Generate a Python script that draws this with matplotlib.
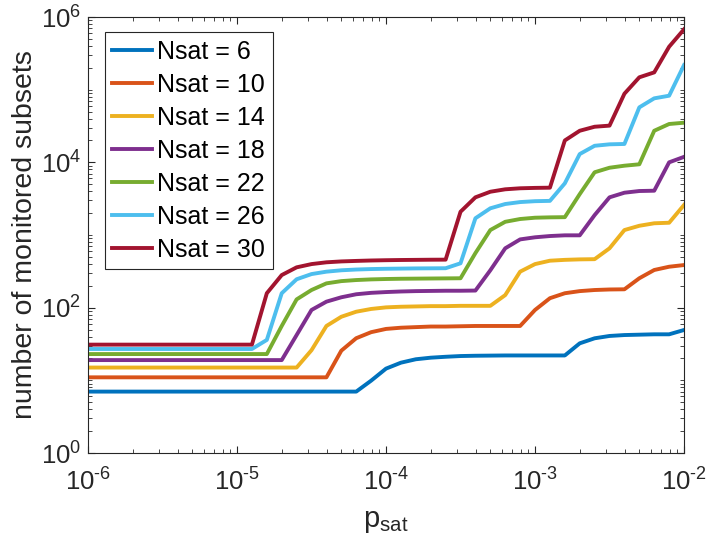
import numpy as np
import matplotlib
matplotlib.use("Agg")
import matplotlib.pyplot as plt
from matplotlib.ticker import LogLocator, NullFormatter, FixedLocator, FuncFormatter

plt.rcParams['font.family'] = ['Liberation Sans', 'DejaVu Sans']
plt.rcParams['mathtext.fontset'] = 'custom'
plt.rcParams['mathtext.rm'] = 'Liberation Sans'
plt.rcParams['mathtext.it'] = 'Liberation Sans:italic'
plt.rcParams['mathtext.default'] = 'regular'

# p_sat sample grid: 10 points per decade from 1e-6 to 1e-2
p_sat = np.logspace(-6, -2, 41)
x_ticks = [1e-6, 1e-5, 1e-4, 1e-3, 1e-2]
y_ticks = [1e0, 1e2, 1e4, 1e6]

labels = ["Nsat = 6", "Nsat = 10", "Nsat = 14", "Nsat = 18",
          "Nsat = 22", "Nsat = 26", "Nsat = 30"]
colors = ["#0072BD", "#D95319", "#EDB120", "#7E2F8E",
          "#77AC30", "#4DBEEE", "#A2142F"]

nsat6 = [7]*19 + [9.9, 14.5, 17.5, 19.5, 20.5, 21.1, 21.6, 21.8, 21.9, 22, 22, 22, 22, 22,
                  32.3, 37.9, 40.8, 42, 42.5, 43, 43, 49.3]
nsat10 = [11]*17 + [25.6, 38, 46, 51, 53, 54, 55, 55, 55.5, 56, 56, 56, 56,
                    93, 135, 158, 169, 175, 178, 179, 254, 330, 366, 386]
nsat14 = [15]*15 + [26, 56, 75, 88, 96, 101, 103, 104, 105, 105, 106, 106, 106,
                    149, 313, 398, 443, 455, 462, 465, 656, 1170, 1340, 1450, 1475, 2590]
nsat18 = [19]*14 + [42, 93, 121, 139, 153, 160, 164, 167, 169, 170, 171, 171, 172,
                    327, 656, 870, 930, 968, 990, 990, 1880, 3300, 3820, 4030, 4070, 10000, 11900]
nsat22 = [23]*13 + [56, 130, 175, 216, 232, 240, 245, 248, 250, 251, 252, 253, 254,
                    564, 1170, 1520, 1660, 1730, 1750, 1760, 3650, 7300, 8430, 8990, 9400,
                    27200, 33700, 35100]
nsat26 = [27]*12 + [36, 158, 246, 290, 313, 327, 335, 340, 343, 345, 347, 348, 349,
                    408, 1700, 2330, 2670, 2840, 2920, 2950, 5140, 13000, 16900, 17700, 17900,
                    57100, 76000, 82600, 218000]
nsat30 = [31]*12 + [158, 281, 359, 398, 421, 433, 440, 446, 450, 453, 455, 457, 458,
                    2090, 3300, 3940, 4255, 4395, 4450, 4480, 20000, 27200, 30900, 32000,
                    88000, 148000, 173000, 390000, 677000]

series = [nsat6, nsat10, nsat14, nsat18, nsat22, nsat26, nsat30]

fig = plt.figure(figsize=(7.07, 5.54), dpi=100)
ax = fig.add_axes([0.1245, 0.1823, 0.843, 0.787])

for ys, lab, c in zip(series, labels, colors):
    ax.plot(p_sat, ys, color=c, lw=2.8, label=lab)

ax.set_xscale('log')
ax.set_yscale('log')
ax.set_xlim(1e-6, 1e-2)
ax.set_ylim(1e0, 1e6)


def pow_fmt(v, pos):
    n = int(round(np.log10(v)))
    s = ('\u2010' + str(-n)) if n < 0 else str(n)
    return r'$\mathregular{10^{%s}}$' % s


ax.xaxis.set_major_locator(FixedLocator(x_ticks))
ax.yaxis.set_major_locator(FixedLocator(y_ticks))
ax.xaxis.set_major_formatter(FuncFormatter(pow_fmt))
ax.yaxis.set_major_formatter(FuncFormatter(pow_fmt))
ax.xaxis.set_minor_locator(LogLocator(base=10, subs=np.arange(2, 10), numticks=20))
yminor = [m * 10.0**d for d in range(0, 6) for m in range(2, 10)] + [10.0**d for d in (1, 3, 5)]
ax.yaxis.set_minor_locator(FixedLocator(yminor))
ax.xaxis.set_minor_formatter(NullFormatter())
ax.yaxis.set_minor_formatter(NullFormatter())

edge = '#262626'
for s in ax.spines.values():
    s.set_color(edge)
    s.set_linewidth(0.8)
ax.tick_params(which='both', direction='in', top=True, right=True, colors=edge,
               labelcolor='#262626')
ax.tick_params(which='major', length=5, width=0.8, labelsize=18.5)
ax.tick_params(axis='x', which='major', pad=11)
ax.tick_params(axis='y', which='major', pad=5)
ax.tick_params(which='minor', length=3, width=0.6)

ax.set_xlabel(r'$\mathregular{p_{sat}}$', fontsize=21, color='#262626', labelpad=8)
ax.set_ylabel('number of monitored subsets', fontsize=20.5, color='#262626', labelpad=2)

leg = ax.legend(loc='upper left', bbox_to_anchor=(0.028, 0.965), fontsize=18,
                frameon=True, fancybox=False, edgecolor='#262626', framealpha=1,
                handlelength=1.6, handletextpad=0.2, labelspacing=0.36,
                borderpad=0.3, borderaxespad=0.0)
leg.get_frame().set_linewidth(0.8)

fig.savefig('out.png', dpi=100)
